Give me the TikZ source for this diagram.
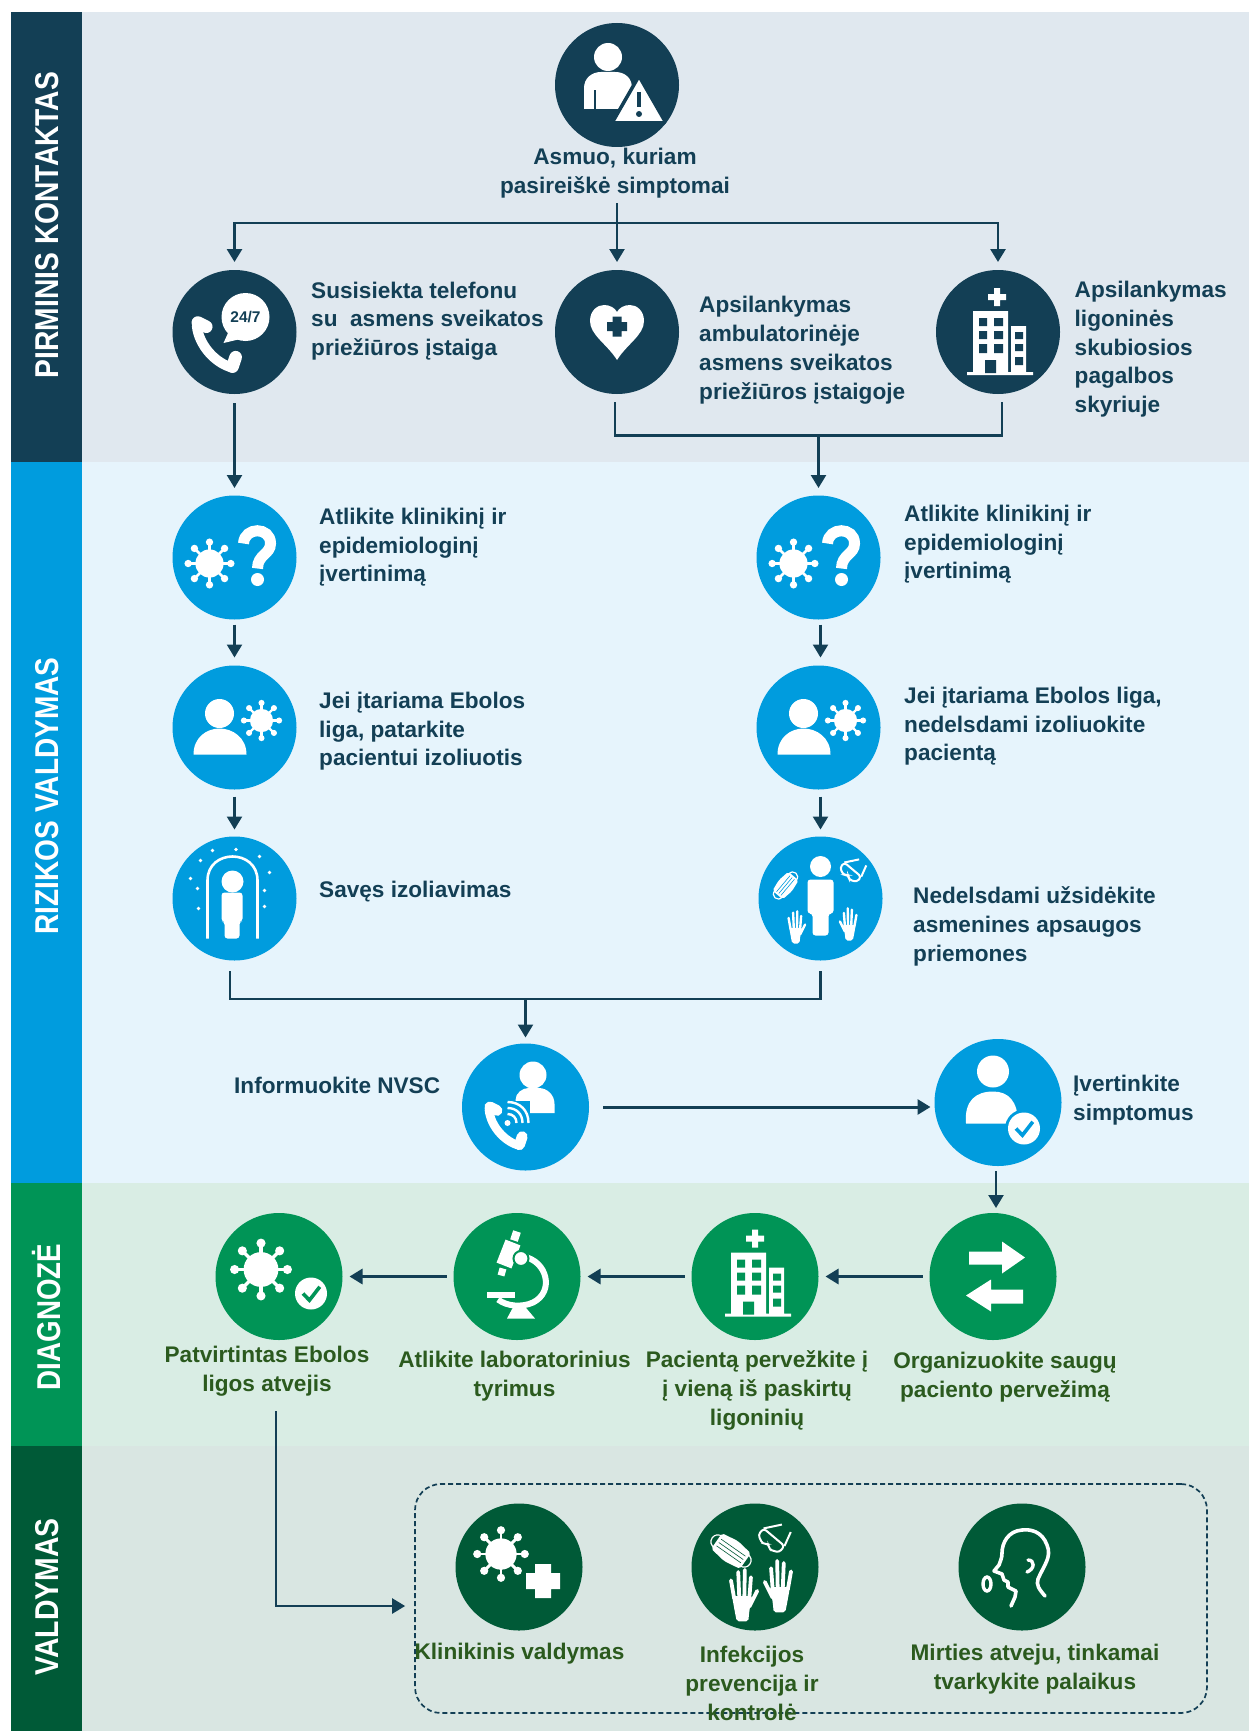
\documentclass[tikz,border=0pt]{standalone}
\usepackage{fontspec}
\setmainfont{Liberation Sans}
\usetikzlibrary{arrows.meta,calc}
\definecolor{navy}{HTML}{133F55}
\definecolor{sky}{HTML}{009CDE}
\definecolor{leaf}{HTML}{009456}
\definecolor{pine}{HTML}{005A37}
\definecolor{bgA}{HTML}{E0E8EF}
\definecolor{bgB}{HTML}{E6F4FC}
\definecolor{bgC}{HTML}{D9EDE4}
\definecolor{bgD}{HTML}{D9E6E2}
\definecolor{moss}{HTML}{2B5A1E}
\tikzset{
  disc/.style={circle,fill=#1,minimum size=124pt,inner sep=0pt,outer sep=0pt},
  barlab/.style={rotate=90,text=white,inner sep=0pt,font=\fontsize{33}{33}\selectfont\bfseries},
  txt/.style={text=navy,inner sep=0pt,anchor=west,align=left,yshift=-1.2pt,font=\fontsize{22.6}{28.8}\selectfont\bfseries},
  ctxt/.style={text=navy,inner sep=0pt,align=center,yshift=-1.2pt,font=\fontsize{22.6}{28.8}\selectfont\bfseries},
  gtxt/.style={text=moss,inner sep=0pt,align=center,yshift=-1.2pt,font=\fontsize{22.6}{29}\selectfont\bfseries},
  arr/.style={draw=navy,line width=2.4pt,-{Triangle[length=13pt,width=15pt,fill=navy]}},
  harr/.style={arr,line width=3pt},
  wire/.style={draw=navy,line width=2.8pt},
}
\newcommand{\icVirus}[3]{\begin{scope}[shift={(#1,#2)},scale=#3]
  \foreach \a in {0,45,...,315}{\draw[white,line width=#3*2.7pt] (0,0) -- (\a:21); \fill[white] (\a:22) circle (3.8);}
  \fill[white] (0,0) circle (14.5);\end{scope}}
\newcommand{\icCheck}[4]{\begin{scope}[shift={(#1,#2)}]
  \fill[#4] (0,0) circle (#3+3); \fill[white] (0,0) circle (#3);
  \draw[#4,line width=3.6pt] (-0.5*#3,0) -- (-0.1*#3,0.42*#3) -- (0.55*#3,-0.42*#3);\end{scope}}
\newcommand{\icHospital}[3]{\begin{scope}[shift={(#1,#2)}]
  \fill[white] (-9,-38-3) rectangle (9,-38+3) (-3,-47) rectangle (3,-29);
  \fill[white] (-24,-24) rectangle (11,38) (14,-9) rectangle (29,38) (-30,37) rectangle (36,40);
  \fill[#3] (-18,-17) rectangle (-10,-9) (-3,-17) rectangle (6,-9) (-18,-4) rectangle (-10,4) (-3,-4) rectangle (6,4) (-18,9) rectangle (-10,18) (-3,9) rectangle (6,18) (-12,25) rectangle (-1,38) (18,-3) rectangle (26,4) (18,9) rectangle (26,16) (18,22) rectangle (26,30);
  \end{scope}}
\newcommand{\icPhone}[3]{\begin{scope}[shift={(#1,#2)},scale=#3]
  \draw[white,line width=#3*9.5pt,line cap=round] (-34,-6) .. controls (-32,13) and (-16,30) .. (0,34);
  \draw[white,line width=#3*12pt,line cap=round] (-33,-9) -- (-25,-5);
  \draw[white,line width=#3*12pt,line cap=round] (0,33) -- (3,24);
  \end{scope}}
\newcommand{\icMask}[5]{\begin{scope}[shift={(#1,#2)},scale=#3,rotate=#4]
  \draw[white,line width=1.2pt] (-11,-5) .. controls (-19,-6) and (-19,6) .. (-11,5) (11,-5) .. controls (19,-6) and (19,6) .. (11,5);
  \fill[white,rounded corners=2pt] (-13,-7) -- (0,-9) -- (13,-7) -- (13,7) -- (0,9) -- (-13,7) -- cycle;
  \draw[#5,line width=.6pt] (-11,-3) -- (11,-3) (-11,0) -- (11,0) (-11,3) -- (11,3);\end{scope}}
\newcommand{\icGoggles}[4]{\begin{scope}[shift={(#1,#2)},scale=#3,rotate=#4]
  \draw[white,line width=2pt,rounded corners=3pt] (-13,-6) -- (13,-6) -- (13,2) -- (4,6) -- (0,2) -- (-4,6) -- (-13,2) -- cycle;
  \draw[white,line width=2pt] (-13,-6) -- (-2,-20) (13,-6) -- (9,-20);\end{scope}}
\newcommand{\icGlove}[4]{\begin{scope}[shift={(#1,#2)},xscale=#3*#4,yscale=#3]
  \fill[white,rounded corners=2pt] (-9.5,2) -- (9.5,2) -- (7,16) -- (6,26) -- (-5,26) -- (-7,16) -- cycle;
  \draw[white,line width=#3*3.6pt,line cap=round] (-7.5,4) -- (-10.5,-13) (-2.6,4) -- (-3.6,-21) (2.2,4) -- (2.7,-23) (7,4) -- (8.5,-16) (7,12) -- (14.5,-3);
  \end{scope}}
\begin{document}
\begin{tikzpicture}[x=1pt,y=-1pt]
\useasboundingbox (0,0) rectangle (1249,1731);
\fill[white] (0,0) rectangle (1249,1731);
% bands
\fill[bgA] (82,12) rectangle (1249,462);
\fill[bgB] (82,462) rectangle (1249,1183);
\fill[bgC] (82,1183) rectangle (1249,1446);
\fill[bgD] (82,1446) rectangle (1249,1731);
\fill[navy] (11,12) rectangle (82,462);
\fill[sky] (11,462) rectangle (82,1183);
\fill[leaf] (11,1183) rectangle (82,1446);
\fill[pine] (11,1446) rectangle (82,1731);
\node[barlab] (labA) at (47,225) {\scalebox{0.855}[1]{PIRMINIS KONTAKTAS}};
\node[barlab] (labB) at (47,796) {\scalebox{0.85}[1]{RIZIKOS VALDYMAS}};
\node[barlab] (labC) at (47,1317) {\scalebox{0.84}[1]{DIAGNOZĖ}};
\node[barlab] (labD) at (47,1597) {\scalebox{0.86}[1]{VALDYMAS}};
% discs
\node[disc=navy] (top) at (617,85) {};
\node[disc=navy] (tel) at (234.5,332) {};
\node[disc=navy] (amb) at (617,332) {};
\node[disc=navy] (lig) at (998,332) {};
\node[disc=sky] (La) at (234.5,557.5) {};
\node[disc=sky] (Lb) at (234.5,727.5) {};
\node[disc=sky] (Lc) at (234.5,898.5) {};
\node[disc=sky] (Ra) at (818.5,557.5) {};
\node[disc=sky] (Rb) at (818.5,727.5) {};
\node[disc=sky] (Rc) at (820.5,898.5) {};
\node[disc=sky,minimum size=127pt] (nvsc) at (525.5,1107) {};
\node[disc=sky,minimum size=127pt] (ivert) at (998,1102.5) {};
\node[disc=leaf,minimum size=127pt] (dA) at (279,1276.5) {};
\node[disc=leaf,minimum size=127pt] (dB) at (517,1276.5) {};
\node[disc=leaf,minimum size=127pt] (dC) at (755,1276.5) {};
\node[disc=leaf,minimum size=127pt] (dD) at (993,1276.5) {};
\node[disc=pine,minimum size=127pt] (vA) at (519,1567) {};
\node[disc=pine,minimum size=127pt] (vB) at (755,1567) {};
\node[disc=pine,minimum size=127pt] (vC) at (1022,1567) {};
% texts
\node[ctxt] (tTop) at (615,172) {Asmuo, kuriam\\pasireiškė simptomai};
\node[txt] (tTel) at (311,320) {Susisiekta telefonu\\su\ \ asmens sveikatos\\priežiūros įstaiga};
\node[txt] (tAmb) at (699,349) {Apsilankymas\\ambulatorinėje\\asmens sveikatos\\priežiūros įstaigoje};
\node[txt] (tLig) at (1074.5,348) {Apsilankymas\\ligoninės\\skubiosios\\pagalbos\\skyriuje};
\node[txt] (tLa) at (319,546) {Atlikite klinikinį ir\\epidemiologinį\\įvertinimą};
\node[txt] (tLb) at (319,730) {Jei įtariama Ebolos\\liga, patarkite\\pacientui izoliuotis};
\node[txt] (tLc) at (319,890) {Savęs izoliavimas};
\node[txt] (tRa) at (904,543) {Atlikite klinikinį ir\\epidemiologinį\\įvertinimą};
\node[txt] (tRb) at (904,725) {Jei įtariama Ebolos liga,\\nedelsdami izoliuokite\\pacientą};
\node[txt] (tRc) at (913,925) {Nedelsdami užsidėkite\\asmenines apsaugos\\priemones};
\node[txt] (tN) at (234,1084) {Informuokite NVSC};
\node[txt] (tI) at (1073,1099) {Įvertinkite\\simptomus};
\node[gtxt] (gA) at (267,1370) {Patvirtintas Ebolos\\ligos atvejis};
\node[gtxt] (gB) at (514.5,1374.5) {Atlikite laboratorinius\\tyrimus};
\node[gtxt] (gC) at (757,1389) {Pacientą pervežkite į\\į vieną iš paskirtų\\ligoninių};
\node[gtxt] (gD) at (1005,1375.5) {Organizuokite saugų\\paciento pervežimą};
% dashed frame
\node[draw=navy,line width=1.7pt,dash pattern=on 5pt off 3pt,rounded corners=26pt,minimum width=792pt,minimum height=229pt,inner sep=0pt] (box) at (811,1598.5) {};
\node[gtxt] (hA) at (519.5,1652) {Klinikinis valdymas};
\node[gtxt] (hB) at (752,1682) {Infekcijos\\prevencija ir\\kontrolė};
\node[gtxt] (hC) at (1035,1667.5) {Mirties atveju, tinkamai\\tvarkykite palaikus};
% junctions
\coordinate (j0) at (617,223);
\coordinate (mA) at (615,402);
\coordinate (mB) at (1002,402);
\coordinate (mC) at (818.5,435.5);
\coordinate (lA) at (230,971);
\coordinate (lB) at (820.5,971);
\coordinate (lC) at (525.5,999);
\coordinate (pS) at (276,1411);
\coordinate (pE) at (276,1606);
% connectors
\draw[arr,shorten >=8pt] (j0 |- tTop.south) ++(0,5) -- (amb.north);
\draw[arr,shorten >=8pt,line width=2.8pt] (j0) -| (tel.north);
\draw[arr,shorten >=8pt,line width=2.8pt] (j0) -| (lig.north);
\draw[arr,shorten <=9pt,shorten >=7.5pt] (tel.south) -- (La.north);
\draw[wire] (mA) |- (mC) -| (mB);
\draw[arr,shorten >=7.5pt] (mC) -- (Ra.north);
\draw[arr,shorten <=5pt,shorten >=8pt] (La.south) -- (Lb.north);
\draw[arr,shorten <=7pt,shorten >=7pt] (Lb.south) -- (Lc.north);
\draw[arr,shorten <=5pt,shorten >=8pt] (Ra.south -| Rc.center) -- (Rb.north -| Rc.center);
\draw[arr,shorten <=7pt,shorten >=7pt] (Rb.south -| Rc.center) -- (Rc.north);
\draw[wire] (lA) |- (lC) -| (lB);
\draw[arr,shorten >=6pt] (lC) -- (nvsc.north);
\draw[harr,shorten <=14pt,shorten >=4pt] (nvsc.east) -- (nvsc.east -| ivert.west);
\draw[arr,shorten <=5pt,shorten >=5pt] (ivert.south -| dD.center) ++(3,0) -- (dD.north -| 996,0);
\draw[harr,shorten <=7pt,shorten >=7pt] (dD.west) -- (dC.east);
\draw[harr,shorten <=7pt,shorten >=7pt] (dC.west) -- (dB.east);
\draw[harr,shorten <=7pt,shorten >=7pt] (dB.west) -- (dA.east);
\draw[arr,shorten >=9pt] (pS) -- (pE) -- (box.west |- pE);
% ---------- icons
% person + warning
\begin{scope}[shift={(top.center)}]
 \fill[white] (-9,-28) circle (14);
 \fill[white] (-33,24) -- (-33,3) .. controls (-33,-7) and (-25,-13) .. (-16,-13) -- (-2,-13) .. controls (8,-13) and (15,-7) .. (15,3) -- (15,24) -- cycle;
 \draw[navy,line width=1.2pt] (-22,24) -- (-22,5);
 \draw[navy,line width=3.5pt,fill=white,rounded corners=3pt,line join=round] (22,-9) -- (49,38) -- (-5,38) -- cycle;
 \draw[navy,line width=4.5pt] (22,7) -- (22,22);
 \fill[navy] (22,29) circle (3);
\end{scope}
% phone + 24/7
\begin{scope}[shift={(tel.center)}]
 \icPhone{-2}{0}{1.05}
 \fill[navy] (11,-15) circle (26);
 \fill[white] (11,-15) circle (24);
 \fill[white] (-6,0) -- (-11,11) -- (6,7) -- cycle;
 \node[text=navy,inner sep=0pt,font=\fontsize{15.5}{16}\selectfont\bfseries] (t247) at (11,-15) {24/7};
\end{scope}
% heart
\begin{scope}[shift={(amb.center)}]
 \fill[white] (0,28) .. controls (-10,12) and (-27,3) .. (-27,-11) .. controls (-27,-22) and (-19,-27) .. (-13,-27) .. controls (-7,-27) and (-2,-24) .. (0,-20) .. controls (2,-24) and (7,-27) .. (13,-27) .. controls (19,-27) and (27,-22) .. (27,-11) .. controls (27,3) and (10,12) .. (0,28) -- cycle;
 \fill[navy] (-10,-10) rectangle (10,-1) (-4.5,-15.5) rectangle (4.5,4.5);
\end{scope}
\path (lig.center) ++(-1,3) coordinate (hosA);
\begin{scope}[shift={(hosA)}]\icHospital{0}{0}{navy}\end{scope}
% virus + ?
\foreach \n in {La,Ra}{
 \begin{scope}[shift={(\n.center)}]
 \icVirus{-25}{6}{0.97}
 \draw[white,line width=11pt] (9,-14) .. controls (10,-31) and (36,-31) .. (36,-14) .. controls (36,-3) and (23,-3) .. (23,11);
 \fill[white] (23,22) circle (6.5);
 \end{scope}}
% person + virus
\foreach \n in {Lb,Rb}{
 \begin{scope}[shift={(\n.center)}]
 \fill[white] (-15,-14) circle (14.5);
 \fill[white] (-41,27) .. controls (-41,10) and (-28,1) .. (-15,1) .. controls (-2,1) and (12,10) .. (12,27) -- cycle;
 \icVirus{27}{-7}{0.8}
 \end{scope}}
% isolation arch
\begin{scope}[shift={(Lc.center)}]
 \draw[white,line width=2.6pt] (-27,40) -- (-27,-18) .. controls (-27,-50) and (23,-50) .. (23,-18) -- (23,40);
 \fill[white] (-2,-17) circle (11);
 \fill[white,rounded corners=3pt] (-13,-6) -- (8,-6) -- (8,23) -- (5,23) -- (5,40) -- (-10,40) -- (-10,23) -- (-13,23) -- cycle;
 \foreach \p in {(-22,-48),(1.5,-49),(25,-42),(35,-26),(30,-8),(30,8),(-36,10),(-37,-10),(-44,-20),(-34,-38)}{\fill[white] \p circle (1.9);}
\end{scope}
% person + PPE
\begin{scope}[shift={(Rc.center)}]
 \fill[white] (0,-32) circle (10.5);
 \fill[white,rounded corners=3pt] (-13,-19) -- (13,-19) -- (13,15) -- (8,15) -- (8,37) -- (-8,37) -- (-8,15) -- (-13,15) -- cycle;
 \icMask{-35}{-13}{0.95}{50}{sky}
 \icGoggles{29}{-25}{0.85}{-40}
 \icGlove{-25}{28}{0.66}{1}
 \icGlove{29}{25}{0.66}{-1}
\end{scope}
% person + wifi phone
\begin{scope}[shift={(nvsc.center)}]
 \fill[white] (7.5,-32) circle (13.5);
 \fill[white] (-10,6) -- (-10,-7) .. controls (-10,-14) and (-3,-19) .. (3,-19) -- (13,-19) .. controls (22,-19) and (29,-12) .. (29,-3) -- (29,6) -- cycle;
 \fill[sky] (-30,-6) -- (4,-6) -- (4,24) -- (-30,24) -- cycle;
 \icPhone{-6}{8}{0.9}
 \foreach \r in {9,15,21}{\draw[white,line width=2.4pt] (-18,16-\r) .. controls (-18+\r*0.6,16-\r) and (-18+\r,16-\r*0.6) .. (-18+\r,16);}
 \fill[white] (-18,16) circle (3);
\end{scope}
% person + check
\begin{scope}[shift={(ivert.center)}]
 \fill[white] (-5,-31) circle (16);
 \fill[white] (-32,21) .. controls (-34,-2) and (-22,-11) .. (-5,-11) .. controls (10,-11) and (20,-2) .. (20,21) -- cycle;
 \icCheck{26}{26}{16}{sky}
\end{scope}
% arrows
\begin{scope}[shift={(dD.center)}]
 \fill[white] (-24,-25) -- (9,-25) -- (9,-35) -- (32,-19) -- (9,-3) -- (9,-12) -- (-24,-12) -- cycle;
 \fill[white] (30,13) -- (-2,13) -- (-2,3) -- (-27,19) -- (-2,35) -- (-2,27) -- (30,27) -- cycle;
\end{scope}
% hospital green
\icHospital{755}{1276.5}{leaf}
% microscope
\begin{scope}[shift={(dB.center)}]
 \draw[white,line width=16pt] (-4,-34) -- (-13,-11);
 \draw[white,line width=8pt] (0,-45) -- (-3,-36);
 \draw[white,line width=7pt] (-14,-8) -- (-16,-1);
 \draw[white,line width=6pt] (6,-20) .. controls (30,-16) and (38,15) .. (16,26) .. controls (5,31) and (-10,30) .. (-19,23);
 \draw[leaf,line width=2pt,fill=white] (4,-18) circle (7.5);
 \fill[white] (-30,15) rectangle (-2,21);
 \fill[white] (-3,29) -- (7,29) -- (18,42) -- (-10,42) -- cycle;
\end{scope}
% virus + check
\begin{scope}[shift={(dA.center)}]
 \icVirus{-18}{-7}{1.2}
 \icCheck{32}{17}{16}{leaf}
\end{scope}
% virus + plus
\begin{scope}[shift={(vA.center)}]
 \icVirus{-18}{-13}{1.08}
 \fill[white] (7,6) rectangle (41,22) (16,-3) rectangle (32,31);
\end{scope}
% mask goggles gloves
\begin{scope}[shift={(vB.center)}]
 \icMask{-24}{-16}{1.35}{-35}{pine}
 \icGoggles{15}{-25}{1.05}{-40}
 \icGlove{-13}{27}{1.05}{1}
 \icGlove{25}{18}{1.05}{-1}
\end{scope}
% head profile
\begin{scope}[shift={(vC.center)}]
 \draw[white,line width=3.6pt,line cap=round,line join=round] (23,29) .. controls (17,22) and (14,18) .. (16,12) .. controls (22,-2) and (30,-10) .. (25,-22) .. controls (20,-36) and (8,-38) .. (0,-37) .. controls (-14,-36) and (-20,-24) .. (-20,-14) .. controls (-20,-8) and (-22,-6) .. (-23,-2) -- (-28,4) -- (-20,7) -- (-18,13) -- (-14,15) -- (-14,20) -- (-6,24) -- (-7,30) -- (-11,39);
 \draw[white,line width=3.4pt,line cap=round] (6,-7) .. controls (13,-7) and (13,2) .. (5,5);
 \draw[white,line width=3.4pt] (-35,17) ellipse (4 and 7);
\end{scope}
\end{tikzpicture}
\end{document}
